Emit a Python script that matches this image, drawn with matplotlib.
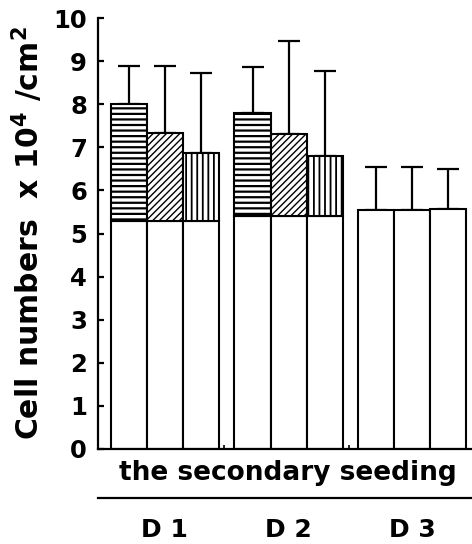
import numpy as np
import matplotlib.pyplot as plt
from matplotlib.transforms import blended_transform_factory

plt.rcParams['font.family'] = ['DejaVu Sans']
plt.rcParams['font.weight'] = 'bold'
plt.rcParams['mathtext.default'] = 'bf'

groups = ['D 1', 'D 2', 'D 3']
# white base of every bar, then the hatched increase on top
base = [[5.29, 5.29, 5.29],
        [5.41, 5.41, 5.41],
        [5.55, 5.55, 5.56]]
total = [[8.01, 7.34, 6.86],
         [7.79, 7.31, 6.80],
         [5.55, 5.55, 5.56]]
err_top = [[8.89, 8.89, 8.73],
           [8.87, 9.46, 8.77],
           [6.54, 6.54, 6.49]]
hatches = ['---', '/////', '|||']
hatch_lw = [1.6, 1.0, 1.3]

group_centers = [1.85, 5.28, 8.70]
width = 1.0

fig = plt.figure(figsize=(4.72, 5.44), dpi=100)
ax = fig.add_axes([98 / 472, 1 - 449 / 544, 373 / 472, 431 / 544])

for g, c in enumerate(group_centers):
    xs = c + (np.arange(3) - 1) * width
    ax.bar(xs, base[g], width, color='white', edgecolor='black', linewidth=1.5, zorder=2)
    extra = np.array(total[g]) - np.array(base[g])
    for i in range(3):
        if extra[i] > 0.02:
            with plt.rc_context({'hatch.linewidth': hatch_lw[i]}):
                ax.bar(xs[i], extra[i], width, bottom=base[g][i], color='white',
                       edgecolor='black', linewidth=1.5, hatch=hatches[i], zorder=2)
    up = np.array(err_top[g]) - np.array(total[g])
    ax.errorbar(xs, total[g], yerr=[np.zeros(3), up], fmt='none', ecolor='black',
                elinewidth=1.6, capsize=8, capthick=1.6, zorder=1)

ax.set_xlim(0, 10.33)
ax.set_ylim(0, 10)
ax.set_yticks(range(0, 11))
ax.set_xticks([3.5, 6.94])
ax.set_xticklabels([])
ax.tick_params(axis='y', direction='in', length=4, width=1.6, labelsize=17.5, pad=8)
ax.tick_params(axis='x', direction='in', length=3, width=1.2)
for lab in ax.get_yticklabels():
    lab.set_fontweight('bold')

for s in ['top', 'right']:
    ax.spines[s].set_visible(False)
for s in ['left', 'bottom']:
    ax.spines[s].set_linewidth(1.6)

ax.set_ylabel('Cell numbers  x 10$^4$ /cm$^2$', fontsize=21.5,
              fontweight='bold', labelpad=6)

ax.text(0.51, -0.055, 'the secondary seeding', transform=ax.transAxes,
        ha='center', va='center', fontsize=19, fontweight='bold')
ax.plot([0, 1.01], [-0.114, -0.114], transform=ax.transAxes, color='black',
        linewidth=1.6, clip_on=False)
trans = blended_transform_factory(ax.transData, ax.transAxes)
for c, name in zip(group_centers, groups):
    ax.text(c, -0.188, name, transform=trans, ha='center', va='center',
            fontsize=18, fontweight='bold')

fig.savefig('out.png', dpi=100)
